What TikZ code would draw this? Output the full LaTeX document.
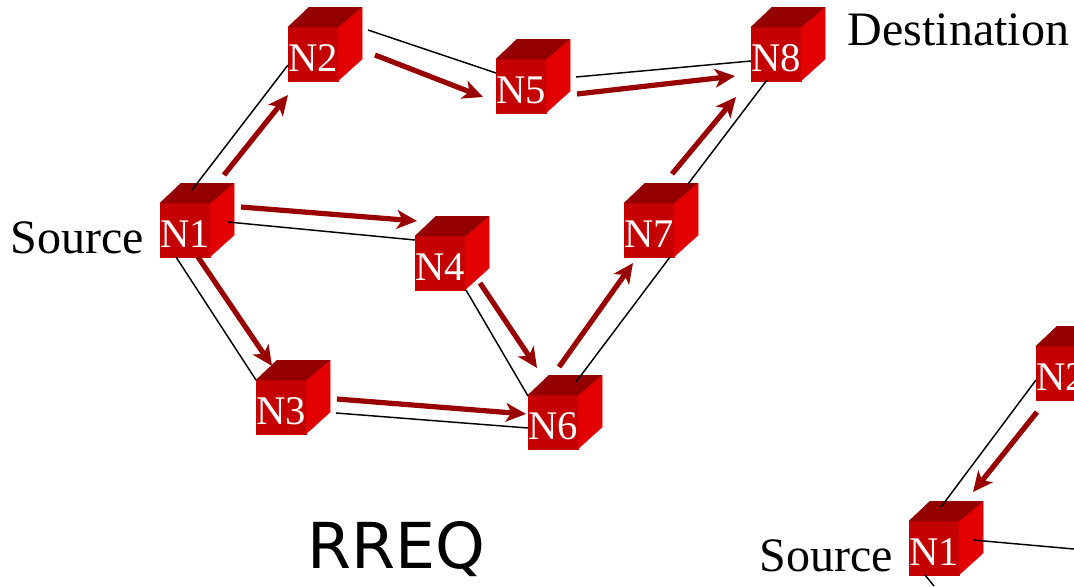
\documentclass[tikz,border=0pt]{standalone}
\usepackage{fontspec}
\setmainfont{Liberation Serif}
\newfontfamily\titlefont{DejaVu Sans}
\usetikzlibrary{arrows.meta}
\definecolor{cubefront}{HTML}{C40000}
\definecolor{cubetop}{HTML}{940000}
\definecolor{cubeside}{HTML}{E20000}
\definecolor{arrowred}{HTML}{990000}
\tikzset{
  cube/.style={draw=cubefront,line width=.2pt,fill=cubefront,text=white,inner sep=0pt,minimum width=37.5pt,
    text height=33.4pt,text depth=6.6pt,font=\fontsize{30.5}{30.5}\selectfont},
  link/.style={line width=1.1pt},
  hop/.style={line width=3.9pt,arrowred,-{Stealth[length=15pt,width=14pt,inset=4pt]}},
  tag/.style={inner sep=0pt,font=\fontsize{36}{36}\selectfont}
}
\begin{document}
\begin{tikzpicture}[x=0.75pt,y=-0.75pt]
    \useasboundingbox (0,0) rectangle (1074,586);

    \node [cube](n1)at(185,230){N1};
    \node [cube](n2)at(313,54){N2};
    \node [cube](n3)at(281,407){N3};
    \node [cube](n4)at(440,263){N4};
    \node [cube](n5)at(521,86){N5};
    \node [cube](n6)at(553,422){N6};
    \node [cube](n7)at(649,230){N7};
    \node [cube](n8)at(776,54){N8};
    \node [cube](m1)at(934,548){N1};
    \node [cube](m2)at(1061,373){N2};

    \foreach \n in {n1,n2,n3,n4,n5,n6,n7,n8,m1,m2}{
        \filldraw [cubeside,line width=.2pt] (\n.north east) -- ++(24,-20) -- ++(0,52) -- (\n.south east) -- cycle;
        \filldraw [cubetop,line width=.2pt] (\n.north west) -- ++(21,-20) -- ++(53,0) -- (\n.north east) -- cycle;
    }

    \node [tag](src)at(77.5,238){Source};
    \node [tag](dst)at(958.5,30){Destination};
    \node [tag](msrc)at(826.5,556){Source};
    \node [inner sep=0pt,font=\titlefont\fontsize{47.5}{47.5}\selectfont](rreq)at(396,549){RREQ};

    \coordinate (e1) at (1074,549);
    \coordinate (e2) at (934,586);

    % plain links
    \draw [link] ([shift={(7,-40)}]n1.center) -- ([shift={(-25,11)}]n2.center);
    \draw [link] ([shift={(55,-24)}]n2.center) -- ([shift={(-25,-13)}]n5.center);
    \draw [link] ([shift={(55,-9)}]n5.center) -- ([shift={(-25,7)}]n8.center);
    \draw [link] ([shift={(-9,26)}]n8.center) -- ([shift={(39,-46)}]n7.center);
    \draw [link] ([shift={(21,27)}]n7.center) -- ([shift={(23,-40)}]n6.center);
    \draw [link] ([shift={(26,27)}]n4.center) -- ([shift={(-25,-26)}]n6.center);
    \draw [link] ([shift={(43,-8)}]n1.center) -- ([shift={(-25,-23)}]n4.center);
    \draw [link] ([shift={(-9,27)}]n1.center) -- ([shift={(-25,-27)}]n3.center);
    \draw [link] ([shift={(55,6)}]n3.center) -- ([shift={(-25,6)}]n6.center);
    \draw [link] ([shift={(7,-41)}]m1.center) -- ([shift={(-25,7)}]m2.center);
    \draw [link] ([shift={(39,-8)}]m1.center) -- (e1);
    \draw [link] ([shift={(-9,27)}]m1.center) -- (e2);

    % route arrows
    \draw [hop] ([shift={(39,-55)}]n1.center) -- ([shift={(-25,41)}]n2.center);
    \draw [hop] ([shift={(62,1)}]n2.center) -- ([shift={(-38,11)}]n5.center);
    \draw [hop] ([shift={(56,8)}]n5.center) -- ([shift={(-41,22)}]n8.center);
    \draw [hop] ([shift={(23,-56)}]n7.center) -- ([shift={(-40,43)}]n8.center);
    \draw [hop] ([shift={(56,-23)}]n1.center) -- ([shift={(-23,-42)}]n4.center);
    \draw [hop] ([shift={(40,20)}]n4.center) -- ([shift={(-16,-54)}]n6.center);
    \draw [hop] ([shift={(6,-55)}]n6.center) -- ([shift={(-16,33)}]n7.center);
    \draw [hop] ([shift={(13,27)}]n1.center) -- ([shift={(-9,-41)}]n3.center);
    \draw [hop] ([shift={(56,-8)}]n3.center) -- ([shift={(-27,-8)}]n6.center);
    \draw [hop] ([shift={(-24,39)}]m2.center) -- ([shift={(39,-56)}]m1.center);
\end{tikzpicture}
\end{document}
